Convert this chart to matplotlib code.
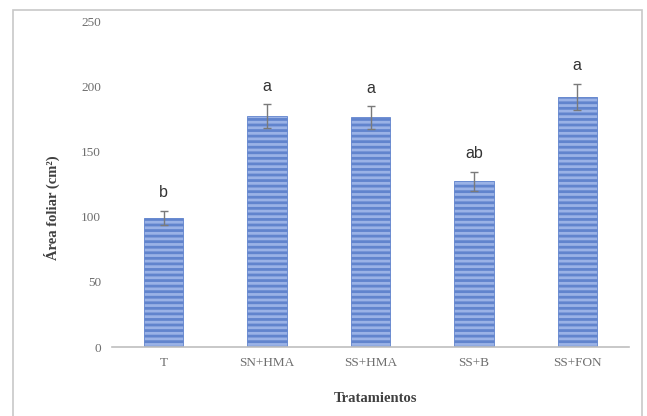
import matplotlib
matplotlib.use("Agg")
import matplotlib.pyplot as plt
from matplotlib.patches import Rectangle

# Leaf area per treatment (mean ± error) with significance letters
treatments = ["T", "SN+HMA", "SS+HMA", "SS+B", "SS+FON"]
leaf_area = [99, 177, 176, 127, 192]
errors = [5.5, 9, 8.5, 7, 10]
letters = ["b", "a", "a", "ab", "a"]
y_ticks = [0, 50, 100, 150, 200, 250]

plt.rcParams["hatch.linewidth"] = 2.0

W, H = 647, 416
fig = plt.figure(figsize=(W / 100, H / 100), dpi=100)
fig.patch.set_facecolor("white")

# light border around the whole chart area
fig.patches.append(Rectangle((12.5 / W, -0.05), (642 - 12.5) / W, (416 - 10) / H + 0.05,
                             transform=fig.transFigure, fill=False,
                             edgecolor="#c8c8c8", linewidth=1.2))

ax = fig.add_axes([112 / W, (H - 347) / H, 517 / W, 326 / H])
x = list(range(len(treatments)))
ax.bar(x, leaf_area, width=0.38, color="#9ab2e6", edgecolor="#6184cd",
       linewidth=0.6, hatch="---", zorder=2)
ax.errorbar(x, leaf_area, yerr=errors, fmt="none", ecolor="#7a7a7a",
            elinewidth=1.0, capsize=3, capthick=1.0, zorder=3)

for xi, v, e, lab in zip(x, leaf_area, errors, letters):
    ax.annotate(lab, (xi, v + e), xytext=(0, 10), textcoords="offset points",
                ha="center", va="baseline", fontsize=11.5,
                family="Liberation Sans", color="#333333")

ax.set_xlim(-0.5, len(treatments) - 0.5)
ax.set_ylim(0, 250)
ax.set_yticks(y_ticks)
ax.set_xticks(x)
ax.set_xticklabels(treatments)

for side in ("top", "right", "left"):
    ax.spines[side].set_visible(False)
ax.spines["bottom"].set_color("#bfbfbf")
ax.spines["bottom"].set_linewidth(1.2)

ax.tick_params(axis="both", length=0, labelsize=9.5, labelcolor="#6e6e6e")
ax.tick_params(axis="y", pad=8)
ax.tick_params(axis="x", pad=7)
for t in ax.get_xticklabels() + ax.get_yticklabels():
    t.set_family("Liberation Serif")

fig.text(375 / W, (H - 398) / H, "Tratamientos", ha="center", va="center",
         fontsize=10.5, fontweight="bold", family="Liberation Serif", color="#404040")
fig.text(52 / W, (H - 207.5) / H, "Área foliar (cm²)", ha="center", va="center",
         rotation=90, fontsize=10.5, fontweight="bold", family="Liberation Serif",
         color="#404040")

fig.savefig("out.png", dpi=100)
